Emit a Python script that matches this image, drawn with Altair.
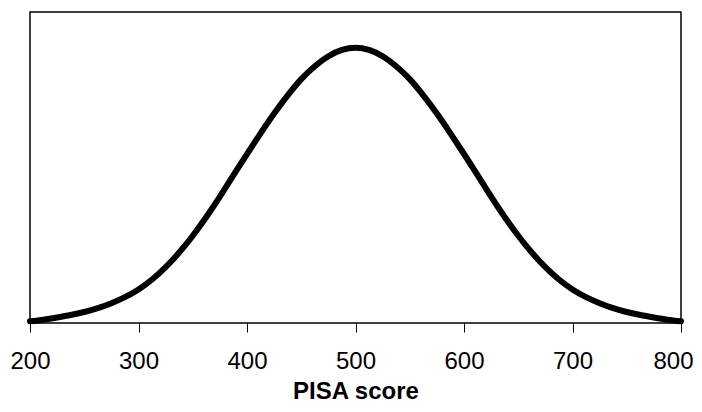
import altair as alt
import pandas as pd

scores = [200, 212.5, 225, 237.5, 250, 262.5, 275, 287.5, 300, 312.5, 325, 337.5, 350,
          362.5, 375, 387.5, 400, 412.5, 425, 437.5, 450, 462.5, 475, 487.5, 500,
          512.5, 525, 537.5, 550, 562.5, 575, 587.5, 600, 612.5, 625, 637.5, 650,
          662.5, 675, 687.5, 700, 712.5, 725, 737.5, 750, 762.5, 775, 787.5, 800]
density = [0.006, 0.012, 0.020, 0.029, 0.040, 0.054, 0.072, 0.094, 0.122, 0.158, 0.203, 0.256, 0.317,
           0.385, 0.459, 0.537, 0.614, 0.689, 0.761, 0.827, 0.886, 0.933, 0.969, 0.992, 1.000,
           0.992, 0.969, 0.933, 0.886, 0.827, 0.761, 0.689, 0.614, 0.537, 0.459, 0.385, 0.317,
           0.256, 0.203, 0.158, 0.122, 0.094, 0.072, 0.054, 0.040, 0.029, 0.020, 0.012, 0.006]
tick_values = [200, 300, 400, 500, 600, 700, 800]

df = pd.DataFrame({"score": scores, "density": density})

chart = alt.Chart(df).mark_line(
    color="black", strokeWidth=6, interpolate="natural", strokeCap="round", strokeJoin="round"
).encode(
    x=alt.X("score:Q", scale=alt.Scale(domain=[200, 800], nice=False),
            axis=alt.Axis(values=tick_values, title="PISA score", grid=False,
                          domain=False, tickColor="black", tickSize=9, tickWidth=1,
                          labelFont="Liberation Sans", labelFontSize=24, labelColor="black",
                          labelPadding=17, labelFlush=False,
                          labelOffset={"condition": {"test": "datum.value == 800", "value": -8}, "value": 0},
                          titleFont="Liberation Sans", titleFontSize=24, titleFontWeight="bold",
                          titleColor="black", titlePadding=6)),
    y=alt.Y("density:Q", scale=alt.Scale(domain=[0, 1.13], nice=False), axis=None),
).properties(
    width=651, height=311,
    autosize=alt.AutoSizeParams(type="none"),
    padding={"left": 22, "top": 4, "right": 13, "bottom": 81},
).configure_view(stroke="black", strokeWidth=1.5)

chart.save("out.html", embed_options={"renderer": "svg", "actions": False})
